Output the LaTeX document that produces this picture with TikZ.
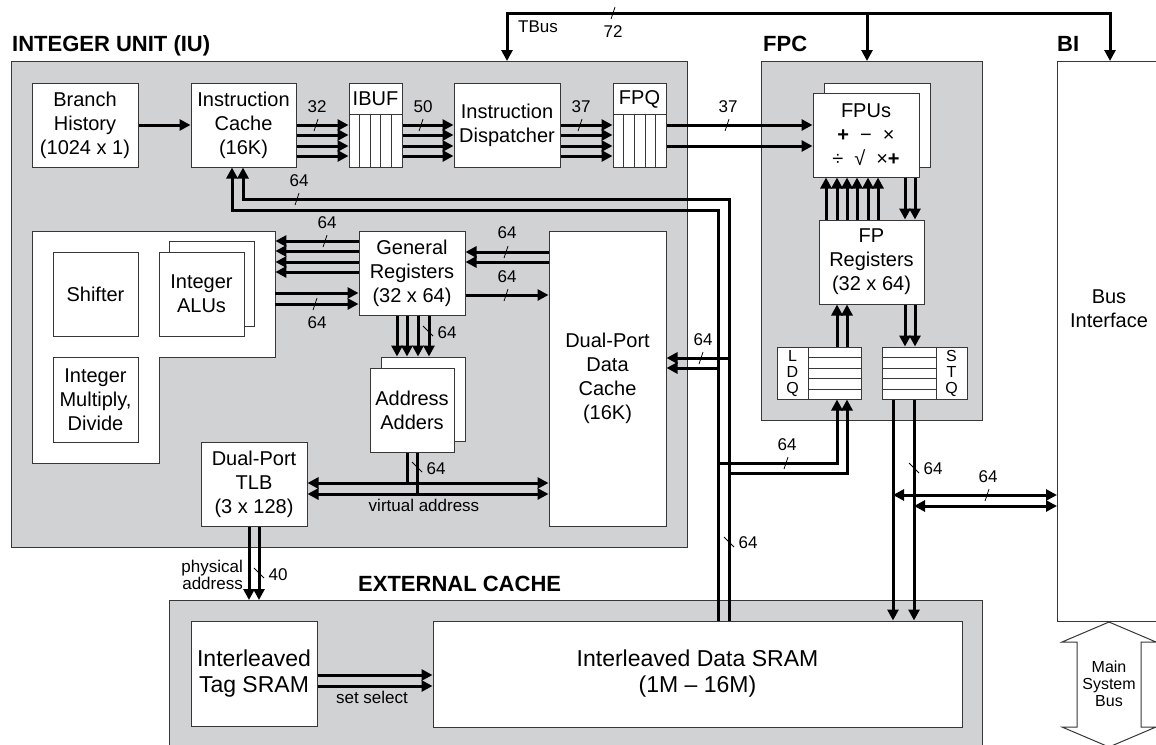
\documentclass[tikz,border=0pt]{standalone}
\usepackage{fontspec}
\setmainfont{Liberation Sans}
\usetikzlibrary{arrows.meta}
\definecolor{panel}{RGB}{209,210,212}
\definecolor{edge}{RGB}{55,55,55}
\newcommand\mainf{\fontsize{20}{24}\selectfont}
\newcommand\bigf{\fontsize{23}{26}\selectfont}
\newcommand\lblf{\fontsize{17}{17}\selectfont}
\newcommand\hdrf{\fontsize{22}{26}\selectfont\bfseries}
\newcommand\qf{\fontsize{16}{16}\selectfont}
\newcommand\msbf{\fontsize{16}{17}\selectfont}
\newcommand\htick[2]{\draw[tk] (#1-2,#2+6) -- (#1+2,#2-6);}
\newcommand\vtick[2]{\draw[tk] (#1-5,#2-5) -- (#1+5,#2+5);}
\begin{document}
\begin{tikzpicture}[x=1pt,y=-1pt,
  >={Triangle[length=11pt,width=11pt]},
  cont/.style={draw=edge,line width=1pt,fill=panel,inner sep=0pt,anchor=north west},
  blk/.style={draw=edge,line width=1pt,fill=white,inner sep=0pt,align=center,font=\mainf},
  thinl/.style={draw=edge,line width=0.8pt},
  bus/.style={line width=3pt,draw=black},
  tk/.style={line width=0.8pt,draw=black},
  lbl/.style={inner sep=0pt,font=\lblf},
  qlet/.style={inner sep=0pt,font=\qf,anchor=base},
  hdr/.style={inner sep=0pt,anchor=base west,font=\hdrf}]
\useasboundingbox (0,0) rectangle (1156,744);
\clip (0,0) rectangle (1156,744);

% ---------- containers ----------
\node[cont,minimum width=676pt,minimum height=486pt] (iu) at (11,61) {};
\node[cont,minimum width=221pt,minimum height=359pt] (fpc) at (761,61) {};
\node[cont,fill=white,minimum width=140pt,minimum height=560pt] (bi) at (1057,61) {};
\node[cont,minimum width=813pt,minimum height=180pt] (ext) at (169,600) {};

\node[hdr] (hiu) at (12,51) {INTEGER UNIT (IU)};
\node[hdr] (hfpc) at (763,51) {FPC};
\node[hdr] (hbi) at (1057,51) {BI};
\node[hdr] (hext) at (358,591) {EXTERNAL CACHE};

% ---------- IU blocks ----------
\node[blk,minimum width=106pt,minimum height=84pt] (branch) at (85,125) {Branch\\History\\(1024 x 1)};
\node[blk,minimum width=105pt,minimum height=84pt] (cache) at (243.5,125) {Instruction\\Cache\\(16K)};
\node[blk,minimum width=53pt,minimum height=84pt] (ibuf) at (375.5,125) {};
\node[inner sep=0pt,font=\mainf] (ibuft) at (375.5,99) {IBUF};
\draw[thinl] (ibuf.west |- 0,114) -- (ibuf.east |- 0,114);
\foreach \x in {359,370,380,391} \draw[thinl] (\x,114) -- (ibuf.south -| \x,0);
\node[blk,minimum width=106pt,minimum height=84pt] (disp) at (507,125) {Instruction\\Dispatcher};
\node[blk,minimum width=53pt,minimum height=84pt] (fpq) at (639.5,125) {};
\node[inner sep=0pt,font=\mainf] (fpqt) at (639.5,99) {FPQ};
\draw[thinl] (fpq.west |- 0,114) -- (fpq.east |- 0,114);
\foreach \x in {623,634,645,655} \draw[thinl] (\x,114) -- (fpq.south -| \x,0);

\draw[edge,line width=1pt,fill=white] (32,231) -- (275,231) -- (275,357) -- (159,357) -- (159,463) -- (32,463) -- cycle;
\node[inner sep=0pt,minimum width=243pt,minimum height=126pt,anchor=north west] (intblk) at (32,231) {};
\node[blk,minimum width=85pt,minimum height=84pt] (shift) at (95.5,294) {Shifter};
\node[blk,minimum width=85pt,minimum height=85pt] (alub) at (211.5,283.5) {};
\node[blk,minimum width=85pt,minimum height=84pt] (alu) at (201.5,294) {Integer\\ALUs};
\node[blk,minimum width=85pt,minimum height=85pt] (imul) at (95.5,399.5) {Integer\\Multiply,\\Divide};
\node[blk,minimum width=106pt,minimum height=84pt] (greg) at (412,273) {General\\Registers\\(32 x 64)};
\node[blk,minimum width=84pt,minimum height=84pt] (addb) at (423,399) {};
\node[blk,minimum width=84pt,minimum height=84pt] (add) at (412,410) {Address\\Adders};
\node[blk,minimum width=117pt,minimum height=295pt] (dcache) at (607.5,378.5) {Dual-Port\\Data\\Cache\\(16K)};
\node[blk,minimum width=106pt,minimum height=84pt] (tlb) at (254,484) {Dual-Port\\TLB\\(3 x 128)};

% ---------- FPC blocks ----------
\node[blk,minimum width=106pt,minimum height=84pt] (fpub) at (877,125) {};
\node[blk,minimum width=106pt,minimum height=84pt] (fpu) at (866,135)
  {FPUs\\\textbf{+}\hspace{0.55em}−\hspace{0.55em}×\\÷\hspace{0.55em}√\hspace{0.55em}×\textbf{+}};
\node[blk,minimum width=105pt,minimum height=84pt] (fpreg) at (871.5,262) {FP\\Registers\\(32 x 64)};
\node[blk,minimum width=84pt,minimum height=52pt] (ldq) at (819,373) {};
\draw[thinl] (808,0 |- ldq.north) -- (808,0 |- ldq.south);
\foreach \y in {357,368,378,389} \draw[thinl] (808,\y) -- (ldq.east |- 0,\y);
\node[qlet] (ldql) at (792.5,361) {L};
\node[qlet] (ldqd) at (792.5,377) {D};
\node[qlet] (ldqq) at (792.5,393) {Q};
\node[blk,minimum width=85pt,minimum height=52pt] (stq) at (924.5,373) {};
\draw[thinl] (936,0 |- stq.north) -- (936,0 |- stq.south);
\foreach \y in {357,368,378,389} \draw[thinl] (stq.west |- 0,\y) -- (936,\y);
\node[qlet] (stqs) at (951.5,361) {S};
\node[qlet] (stqt) at (951.5,377) {T};
\node[qlet] (stqq) at (951.5,393) {Q};

% ---------- external cache ----------
\node[blk,font=\bigf,minimum width=126pt,minimum height=105pt] (tag) at (254,673.5) {Interleaved\\Tag SRAM};
\node[blk,font=\bigf,minimum width=529pt,minimum height=106pt] (dsram) at (697.5,674) {Interleaved Data SRAM\\(1M – 16M)};

% ---------- BI ----------
\node[inner sep=0pt,font=\mainf,align=center] (bitxt) at (1109,309) {Bus\\Interface};
\draw[edge,line width=1pt,fill=white] (1109,622) -- (1156,642) -- (1141,642) -- (1141,727) -- (1156,727) -- (1109,747) -- (1062,727) -- (1077,727) -- (1077,642) -- (1062,642) -- cycle;
\node[inner sep=0pt,font=\msbf,align=center] (msb) at (1109,684) {Main\\System\\Bus};

% ---------- connectors ----------
\draw[bus,->] (branch.east) -- (cache.west);
\foreach \y in {125,135,146,156} {
  \draw[bus,->] (cache.east |- 0,\y) -- (ibuf.west |- 0,\y);
  \draw[bus,->] (ibuf.east |- 0,\y) -- (disp.west |- 0,\y);
  \draw[bus,->] (disp.east |- 0,\y) -- (fpq.west |- 0,\y);
}
\foreach \y in {125,146} \draw[bus,->] (fpq.east |- 0,\y) -- (fpu.west |- 0,\y);

% TBus
\draw[bus,<->] (iu.north -| 507,0) |- (1110,13) -- (bi.north -| 1110,0);
\draw[bus,->] (867,13) -- (fpc.north -| 867,0);

% feedback from external data SRAM
\draw[bus,->] (dsram.north -| 729,0) |- (243,199) -- (cache.south -| 243,0);
\draw[bus,->] (dsram.north -| 718,0) |- (232,210) -- (cache.south -| 232,0);
\draw[bus,->] (729,358) -- (dcache.east |- 0,358);
\draw[bus,->] (718,368) -- (dcache.east |- 0,368);
\draw[bus,->] (718,463) -| (ldq.south -| 837,0);
\draw[bus,->] (729,473) -| (ldq.south -| 847,0);

% general registers
\foreach \y in {241,251,262,272} \draw[bus,->] (greg.west |- 0,\y) -- (intblk.east |- 0,\y);
\foreach \y in {293,304} \draw[bus,->] (intblk.east |- 0,\y) -- (greg.west |- 0,\y);
\foreach \y in {252,262} \draw[bus,->] (dcache.west |- 0,\y) -- (greg.east |- 0,\y);
\draw[bus,->] (greg.east |- 0,295) -- (dcache.west |- 0,295);
\foreach \x in {397,407,418,429} \draw[bus,->] (greg.south -| \x,0) -- (addb.north -| \x,0);

% virtual address
\draw[bus] (add.south -| 407,0) -- (407,483);
\draw[bus] (add.south -| 417,0) -- (417,494);
\foreach \y in {483,494} \draw[bus,<->] (tlb.east |- 0,\y) -- (dcache.west |- 0,\y);
\node[lbl] (va) at (424,505) {virtual address};

% physical address
\foreach \x in {249,259} \draw[bus,->] (tlb.south -| \x,0) -- (ext.north -| \x,0);
\node[lbl,align=right,anchor=east] (pa) at (243,575) {physical\\address};

% set select
\foreach \y in {675,686} \draw[bus,->] (tag.east |- 0,\y) -- (dsram.west |- 0,\y);
\node[lbl] (ss) at (372,697) {set select};

% FPC internal
\foreach \x in {826,837,847,857,868,878} \draw[bus,->] (fpreg.north -| \x,0) -- (fpu.south -| \x,0);
\foreach \x in {905,915} {
  \draw[bus,->] (fpu.south -| \x,0) -- (fpreg.north -| \x,0);
  \draw[bus,->] (fpreg.south -| \x,0) -- (stq.north -| \x,0);
}
\foreach \x in {837,847} \draw[bus,->] (ldq.north -| \x,0) -- (fpreg.south -| \x,0);

% store path
\foreach \x in {893,914} \draw[bus,->] (stq.south -| \x,0) -- (dsram.north -| \x,0);
\draw[bus,<->] (893,495) -- (bi.west |- 0,495);
\draw[bus,<->] (914,506) -- (bi.west |- 0,506);

% ---------- width labels ----------
\node[lbl] (w1) at (317,107) {32};  \htick{316}{125}
\node[lbl] (w2) at (423,107) {50};  \htick{421}{125}
\node[lbl] (w3) at (581,107) {37};  \htick{580}{125}
\node[lbl] (w4) at (728,107) {37};  \htick{727}{125}
\node[lbl] (w5) at (299,181) {64};  \htick{297}{199}
\node[lbl] (w6) at (327,223) {64};  \htick{325}{241}
\node[lbl] (w7) at (317,323) {64};  \htick{315}{304}
\node[lbl] (w8) at (507,233) {64};  \htick{506}{252}
\node[lbl] (w9) at (507,277) {64};  \htick{506}{295}
\node[lbl] (w10) at (447,333) {64}; \vtick{428}{331}
\node[lbl] (w11) at (436,469) {64}; \vtick{417}{467}
\node[lbl] (w12) at (703,340) {64}; \htick{701}{358}
\node[lbl] (w13) at (787,445) {64}; \htick{786}{463}
\node[lbl] (w14) at (748,543) {64}; \vtick{729}{542}
\node[lbl] (w15) at (933,469) {64}; \vtick{914}{468}
\node[lbl] (w16) at (988,477) {64}; \htick{987}{495}
\node[lbl] (w17) at (278,575) {40}; \vtick{259}{573}
\node[lbl] (w18) at (613,32) {72};  \htick{613}{13}
\node[lbl] (tbus) at (538,27) {TBus};
\end{tikzpicture}
\end{document}
